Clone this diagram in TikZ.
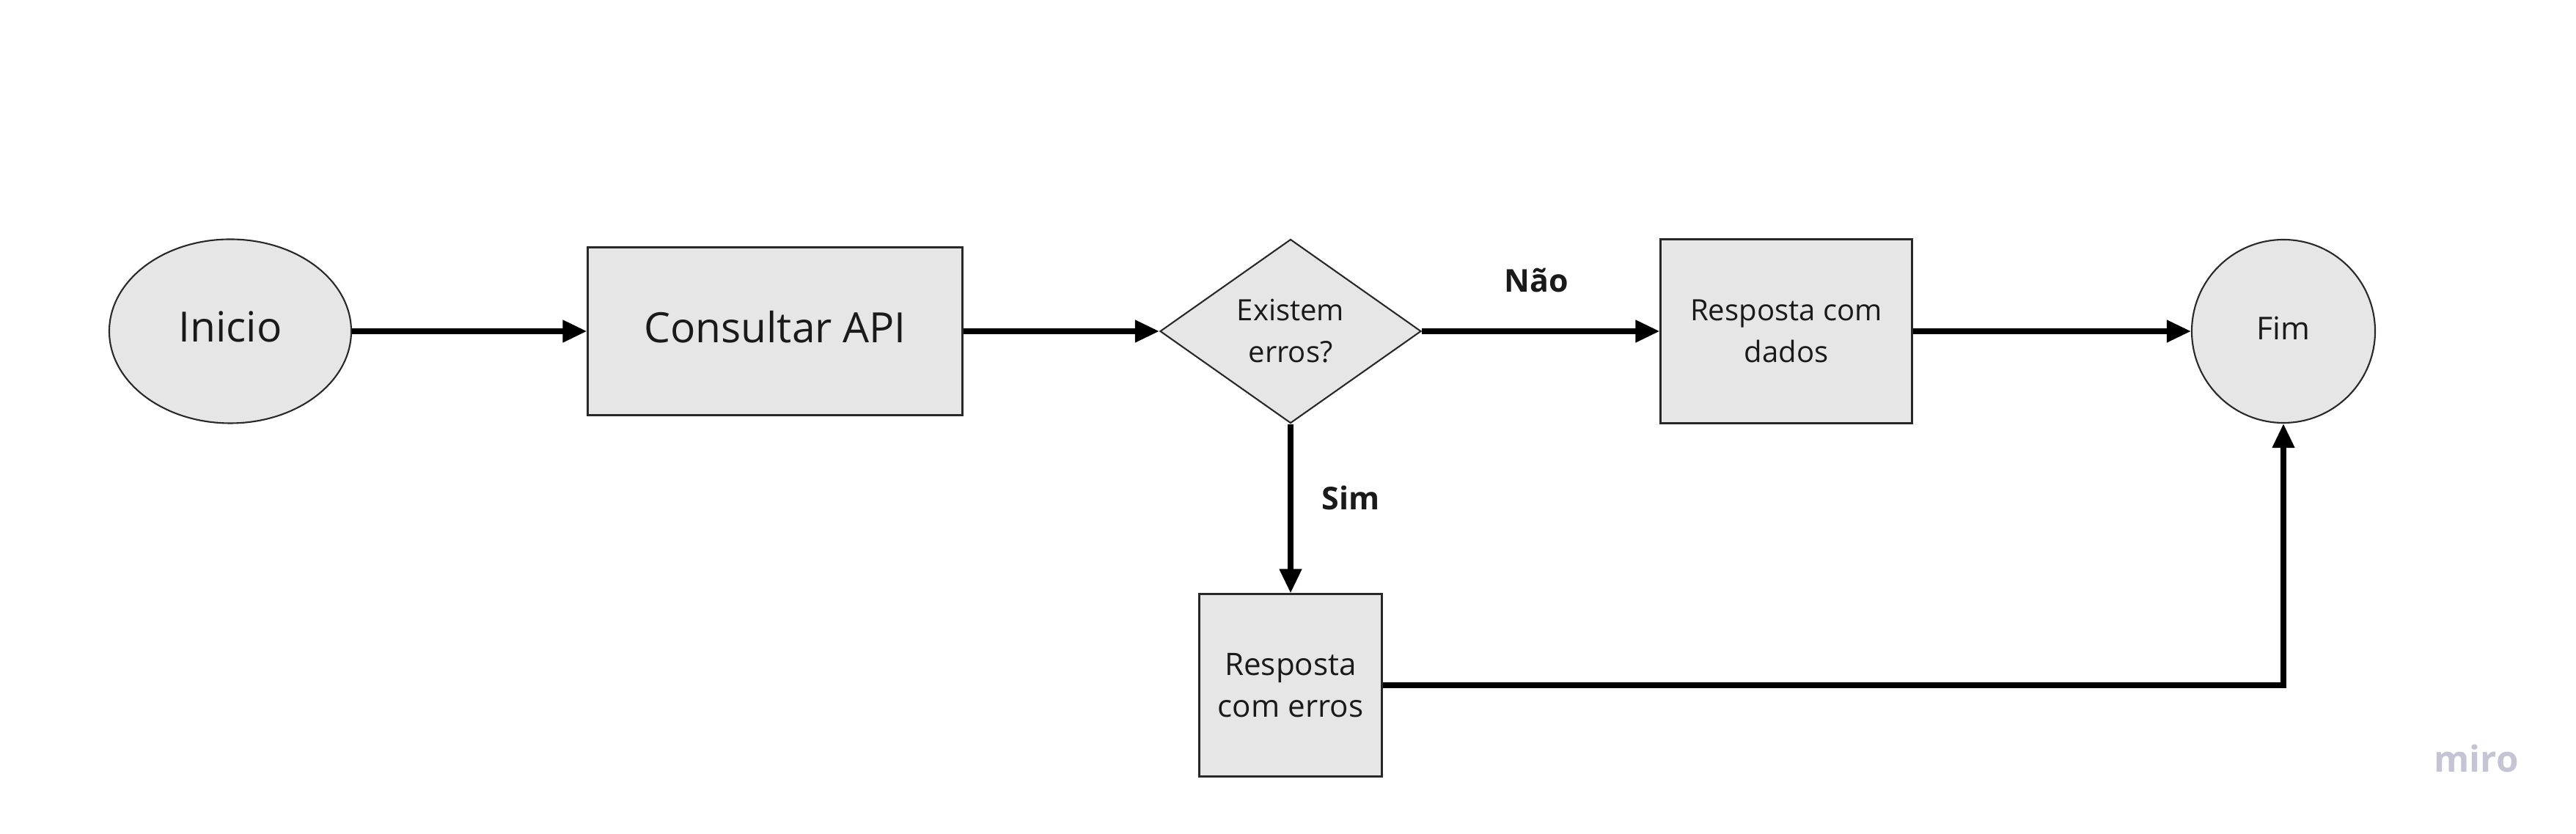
\documentclass[tikz,border=0pt]{standalone}
\usepackage{fontspec}
\setmainfont{Open Sans}
\usetikzlibrary{shapes.geometric,arrows.meta}

\definecolor{flowFill}{RGB}{230,230,230}
\definecolor{flowBorder}{RGB}{40,40,40}
\definecolor{flowText}{RGB}{26,26,26}
\definecolor{flowMark}{RGB}{196,196,212}

\begin{document}
\begin{tikzpicture}[x=1cm,y=1cm,
      big/.style={font=\fontsize{16.2}{20}\selectfont, text=flowText,
        text depth=.12cm},
      small/.style={font=\fontsize{11.4}{16.2}\selectfont, text=flowText,
        align=center},
      shapebox/.style={draw=flowBorder, fill=flowFill, line width=.6pt,
        inner sep=0pt},
      terminal/.style={shapebox, ellipse},
      process/.style={shapebox, rectangle},
      decision/.style={shapebox, diamond, shape aspect=1.42},
      answer/.style={font=\fontsize{12.2}{14}\selectfont\bfseries,
        text=flowText},
      flow/.style={draw=black, line width=2.1pt,
        -{Triangle[length=.33cm,width=.29cm]}}]
      \useasboundingbox (0,0) rectangle (35.13,11.38);

      % Main line of the flow.
      \node[terminal, big, minimum width=3.30cm, minimum height=2.51cm]
        (inicio) at (3.14,6.86) {Inicio};
      \node[process, big, minimum width=5.11cm, minimum height=2.29cm]
        (consulta) at (10.57,6.86) {Consultar API};
      \node[decision, small, minimum width=3.56cm, minimum height=2.51cm]
        (erros) at (17.60,6.86) {Existem\\erros?};
      \node[process, small, minimum width=3.43cm, minimum height=2.51cm]
        (dados) at (24.36,6.86) {Resposta com\\dados};
      \node[shapebox, circle, font=\fontsize{12.2}{14}\selectfont,
        text=flowText, text depth=.08cm, minimum size=2.50cm]
        (fim) at (31.14,6.86) {Fim};

      % Error branch.
      \node[process, small, font=\fontsize{12}{16.2}\selectfont,
        minimum width=2.49cm, minimum height=2.49cm]
        (falha) at (17.60,2.03) {Resposta\\com erros};

      \node[answer] (nao) at (20.95,7.55) {Não};
      \node[answer] (sim) at (18.42,4.59) {Sim};

      \draw[flow] (inicio) -- (consulta);
      \draw[flow] (consulta) -- (erros);
      \draw[flow] (erros) -- (dados);
      \draw[flow] (dados) -- (fim);
      \draw[flow] (erros) -- (falha);
      \draw[flow] (falha.east) -| (fim.south);

      \node[font=\fontsize{14}{16}\selectfont\bfseries, text=flowMark,
        anchor=base] (marca) at (33.77,.84) {miro};
    \end{tikzpicture}
\end{document}
